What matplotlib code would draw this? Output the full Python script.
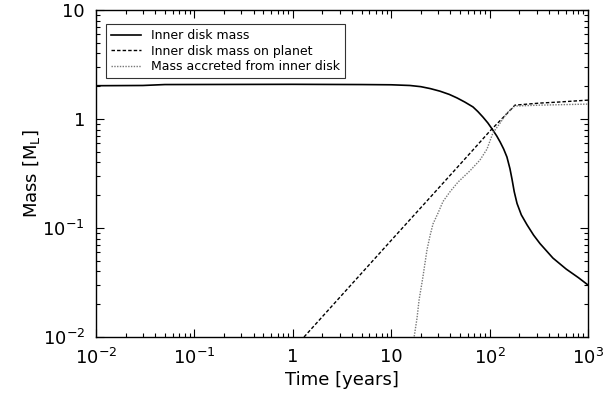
import numpy as np
import matplotlib
matplotlib.use("Agg")
import matplotlib.pyplot as plt
from matplotlib.ticker import LogLocator, FixedLocator, FuncFormatter, NullFormatter

# Inner disk mass (solid)
t_disk = [0.01, 0.03, 0.05, 1.0, 5.0, 10, 15.5, 20, 25, 31.3, 39, 46.7, 56, 67.8,
          76, 85.7, 96, 108, 118, 128, 139, 150, 161, 169, 178, 190, 210, 240,
          280, 325, 440, 600, 800, 1000]
m_disk = [2.02, 2.03, 2.07, 2.08, 2.07, 2.06, 2.03, 1.98, 1.90, 1.80, 1.68, 1.56,
          1.43, 1.29, 1.17, 1.04, 0.92, 0.79, 0.70, 0.615, 0.53, 0.448, 0.35,
          0.28, 0.215, 0.168, 0.132, 0.107, 0.086, 0.072, 0.053, 0.042, 0.035, 0.030]

# Inner disk mass on planet (dashed)
t_planet = [1.3, 10, 31.3, 67.8, 100, 150, 181, 325, 500, 1000]
m_planet = [0.01, 0.077, 0.24, 0.52, 0.77, 1.12, 1.34, 1.40, 1.43, 1.49]

# Mass accreted from inner disk (dotted)
t_acc = [17.1, 17.1, 18.3, 19.2, 20.1, 21.0, 23.1, 24.8, 26.6, 29.9, 33.6, 39.6,
         47.8, 63.2, 79.8, 94.1, 108, 128, 150, 181, 325, 1000]
m_acc = [0.008, 0.01, 0.0149, 0.0219, 0.028, 0.0355, 0.063, 0.085, 0.109, 0.137,
         0.175, 0.215, 0.264, 0.335, 0.42, 0.53, 0.744, 0.92, 1.135, 1.315, 1.34, 1.37]

plt.rcParams['mathtext.default'] = 'regular'

fig = plt.figure(figsize=(6.04, 3.96), dpi=100)
ax = fig.add_axes([96 / 604, 59 / 396, 492 / 604, 327 / 396])

ax.plot(t_disk, m_disk, color='black', lw=1.2, label='Inner disk mass')
ax.plot(t_planet, m_planet, color='black', lw=1.0, ls=(0, (2.5, 1.5)),
        label='Inner disk mass on planet')
ax.plot(t_acc, m_acc, color='#777777', lw=1.0, ls=(0, (1, 1)),
        label='Mass accreted from inner disk')

ax.set_xscale('log')
ax.set_yscale('log')
ax.set_xlim(1e-2, 1e3)
ax.set_ylim(1e-2, 10)


def fmt(v, pos):
    e = int(round(np.log10(v)))
    if e == 0:
        return '1'
    if e == 1:
        return '10'
    return r'$10^{%d}$' % e


ax.xaxis.set_major_locator(FixedLocator([1e-2, 1e-1, 1, 10, 1e2, 1e3]))
ax.yaxis.set_major_locator(FixedLocator([1e-2, 1e-1, 1, 10]))
ax.xaxis.set_major_formatter(FuncFormatter(fmt))
ax.yaxis.set_major_formatter(FuncFormatter(fmt))
ax.xaxis.set_minor_locator(LogLocator(base=10, subs=np.arange(2, 10), numticks=20))
ax.yaxis.set_minor_locator(LogLocator(base=10, subs=np.arange(2, 10), numticks=20))
ax.xaxis.set_minor_formatter(NullFormatter())
ax.yaxis.set_minor_formatter(NullFormatter())

ax.tick_params(which='both', direction='in', top=True, right=True, labelsize=13,
               width=0.8, colors='black')
ax.tick_params(which='major', length=6, pad=8)
ax.tick_params(which='minor', length=3)
for s in ax.spines.values():
    s.set_linewidth(1.0)

ax.set_xlabel('Time [years]', fontsize=13, labelpad=2)
ax.set_ylabel('Mass [M$_L$]', fontsize=13, labelpad=0)

leg = ax.legend(loc='upper left', bbox_to_anchor=(0.020, 0.957), fontsize=9,
                frameon=True, fancybox=False, edgecolor='black', handlelength=2.4,
                borderpad=0.4, labelspacing=0.2, handletextpad=0.8, borderaxespad=0)
leg.get_frame().set_linewidth(0.8)

fig.savefig('out.png', dpi=100)
